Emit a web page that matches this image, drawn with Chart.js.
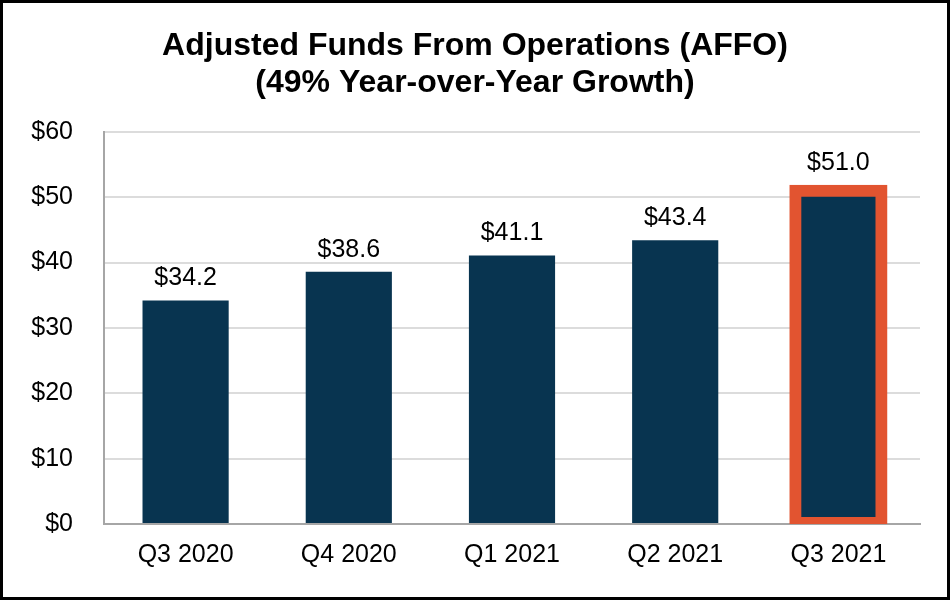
<!DOCTYPE html>
<html>
<head>
<meta charset="utf-8">
<script src="https://cdn.jsdelivr.net/npm/chart.js@4"></script>
<style>
  html, body { margin: 0; padding: 0; background: #fff; }
  #wrap { width: 950px; height: 600px; box-sizing: border-box; border: 3px solid #000; position: relative; }
  #wrap canvas { display: block; }
</style>
</head>
<body>
<div id="wrap"><canvas id="c" width="944" height="594"></canvas></div>
<script>
const categories = ['Q3 2020', 'Q4 2020', 'Q1 2021', 'Q2 2021', 'Q3 2021'];
const affoValues = [34.2, 38.6, 41.1, 43.4, 51.0];
const highlightIndex = 4;
const yTicks = [0, 10, 20, 30, 40, 50, 60];
const titleLines = ['Adjusted Funds From Operations (AFFO)', '(49% Year-over-Year Growth)'];

const FONT = "'Liberation Sans', Arial, sans-serif";
const NAVY = '#083450';
const ORANGE = '#e25430';
const HL_BORDER = 12;

const valueLabels = {
  id: 'valueLabels',
  afterDatasetsDraw(chart) {
    const ctx = chart.ctx;
    const meta = chart.getDatasetMeta(0);
    ctx.save();
    ctx.font = '25px ' + FONT;
    ctx.fillStyle = '#000';
    ctx.textAlign = 'center';
    ctx.textBaseline = 'alphabetic';
    meta.data.forEach((el, i) => {
      const top = el.y - (i === highlightIndex ? HL_BORDER / 2 : 0);
      ctx.fillText('$' + affoValues[i].toFixed(1), el.x, top - 15);
    });
    ctx.restore();
  }
};

new Chart(document.getElementById('c'), {
  type: 'bar',
  data: {
    labels: categories,
    datasets: [{
      data: affoValues,
      backgroundColor: NAVY,
      borderColor: (c) => c.dataIndex === highlightIndex ? ORANGE : 'rgba(0,0,0,0)',
      borderWidth: (c) => c.dataIndex === highlightIndex ? HL_BORDER : 0,
      inflateAmount: (c) => c.dataIndex === highlightIndex ? HL_BORDER / 2 : 0,
      borderSkipped: false,
      categoryPercentage: 1.0,
      barPercentage: 0.528,
      clip: { left: 30, top: 30, right: 30, bottom: 0 }
    }]
  },
  options: {
    responsive: false,
    animation: false,
    devicePixelRatio: 1,
    layout: { padding: { left: 0, right: 0, top: 0, bottom: 27 } },
    plugins: {
      legend: { display: false },
      tooltip: { enabled: false },
      title: {
        display: true,
        text: titleLines,
        color: '#000',
        font: { family: FONT, size: 32, weight: 'bold', lineHeight: 1.17 },
        padding: { top: 24, bottom: 30 }
      }
    },
    scales: {
      x: {
        grid: { display: false, drawTicks: false },
        border: { display: true, color: '#a6a6a6', width: 2 },
        ticks: { color: '#000', font: { family: FONT, size: 25 }, padding: 16 },
        afterFit: (s) => { s.height = 46; }
      },
      y: {
        min: 0, max: 60,
        afterBuildTicks: (s) => { s.ticks = yTicks.map(v => ({ value: v })); },
        grid: { color: '#dcdcdc', lineWidth: 2, drawTicks: false },
        border: { display: true, color: '#a6a6a6', width: 2 },
        ticks: { color: '#000', font: { family: FONT, size: 25 }, padding: 31,
                 callback: (v) => '$' + v },
        afterFit: (s) => { s.width = 101; }
      },
      yRightSpace: {
        position: 'right',
        min: 0, max: 60,
        grid: { display: false, drawOnChartArea: false, drawTicks: false },
        border: { display: false },
        ticks: { display: false },
        afterFit: (s) => { s.width = 27; }
      }
    }
  },
  plugins: [valueLabels]
});
</script>
</body>
</html>
